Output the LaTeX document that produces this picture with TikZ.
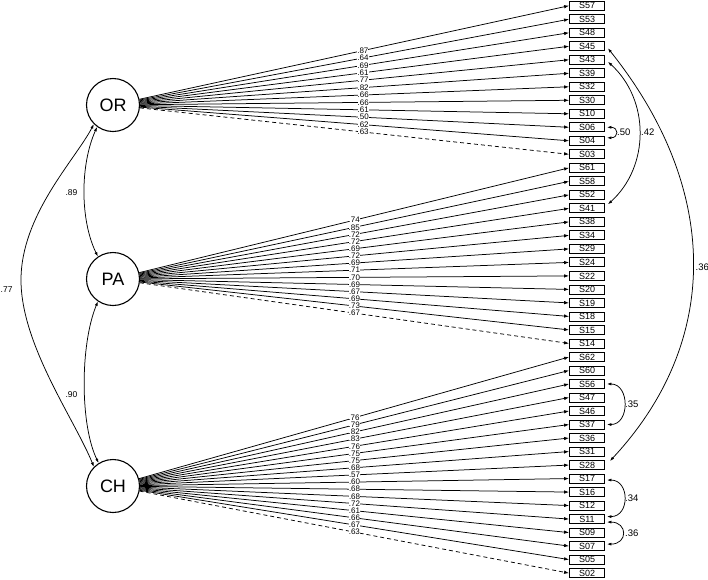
\documentclass[tikz,border=0pt]{standalone}
\usepackage{fontspec}
\setmainfont{Liberation Sans}
\usetikzlibrary{arrows.meta}
\begin{document}
\begin{tikzpicture}[x=1pt,y=-1pt,
  obs/.style={draw, line width=0.8pt, minimum width=35pt, minimum height=9pt, inner sep=0pt, font=\fontsize{9}{9}\selectfont},
  lat/.style={draw, circle, line width=1.1pt, minimum size=53pt, inner sep=0pt, font=\fontsize{18}{18}\selectfont},
  load/.style={line width=0.75pt, -{Latex[length=5pt,width=3.5pt]}},
  dload/.style={load, dash pattern=on 4pt off 3pt},
  coef/.style={fill=white, inner sep=0pt, font=\fontsize{8}{8}\selectfont},
  cov/.style={line width=0.75pt, {Latex[length=4.5pt,width=3pt]}-{Latex[length=4.5pt,width=3pt]}},
  covlab/.style={inner sep=0pt, font=\fontsize{8.5}{8.5}\selectfont},
  elab/.style={inner sep=0pt, anchor=west, font=\fontsize{9.5}{9.5}\selectfont}
]
\useasboundingbox (0,0) rectangle (708,579);

% latent factors
\node[lat] (OR) at (113,105) {OR};
\node[lat] (PA) at (113,279) {PA};
\node[lat] (CH) at (113,486) {CH};

% observed items
\foreach \n [count=\i from 0] in {S57,S53,S48,S45,S43,S39,S32,S30,S10,S06,S04,S03,
  S61,S58,S52,S41,S38,S34,S29,S24,S22,S20,S19,S18,S15,S14,
  S62,S60,S56,S47,S46,S37,S36,S31,S28,S17,S16,S12,S11,S09,S07,S05,S02}
  \node[obs] (\n) at (587,5.7+13.51*\i) {\n};

% loadings OR
\foreach \n/\v in {S57/.87,S53/.64,S48/.69,S45/.61,S43/.77,S39/.82,S32/.66,S30/.66,S10/.61,S06/.50,S04/.62}
  \draw[load] (OR) -- node[coef,pos=0.52] {\v} (\n.west);
\draw[dload] (OR) -- node[coef,pos=0.52] {.63} (S03.west);

% loadings PA
\foreach \n/\v in {S61/.74,S58/.85,S52/.72,S41/.72,S38/.69,S34/.72,S29/.69,S24/.71,S22/.70,S20/.69,S19/.67,S18/.69,S15/.73}
  \draw[load] (PA) -- node[coef,pos=0.5] {\v} (\n.west);
\draw[dload] (PA) -- node[coef,pos=0.5] {.67} (S14.west);

% loadings CH
\foreach \n/\v in {S62/.76,S60/.79,S56/.82,S47/.83,S46/.76,S37/.75,S36/.75,S31/.68,S28/.57,S17/.60,S16/.68,S12/.68,S11/.72,S09/.61,S07/.66,S05/.67}
  \draw[load] (CH) -- node[coef,pos=0.5] {\v} (\n.west);
\draw[dload] (CH) -- node[coef,pos=0.5] {.63} (S02.west);

% factor covariances
\draw[cov] (OR.234) .. controls (80,165) and (80,220) .. (PA.124);
\node[covlab] (c89) at (71.5,193) {.89};
\draw[cov] (PA.236) .. controls (80,345) and (80,425) .. (CH.122);
\node[covlab] (c90) at (71.5,395) {.90};
\coordinate (mid77) at (21,280);
\draw[cov] (OR.225) .. controls (75,160) and (21,215) .. (mid77)
   .. controls (21,345) and (75,420) .. (CH.135);
\node[covlab, anchor=west] (c77) at (0.5,290) {.77};

% error covariances
\draw[cov] ([xshift=2pt]S06.east) .. controls +(12,0) and +(12,0) .. ([xshift=2pt,yshift=3pt]S04.east);
\node[elab] (c50) at (617,132) {.50};

\draw[cov] ([xshift=3pt,yshift=-2pt]S43.east) .. controls +(42,38) and +(42,-38) .. ([xshift=3pt,yshift=4pt]S41.east);
\node[elab] (c42) at (641,132) {.42};

\draw[cov] ([xshift=3pt,yshift=-2pt]S45.east) .. controls +(112,140) and +(112,-120) .. ([xshift=5pt,yshift=4pt]S28.east);
\node[elab] (c36a) at (695.5,267) {.36};

\draw[cov] ([xshift=2pt]S56.east) .. controls +(23,0) and +(23,0) .. ([xshift=2pt]S37.east);
\node[elab] (c35) at (625,404) {.35};

\draw[cov] ([xshift=2pt,yshift=-1.5pt]S17.east) .. controls +(23,0) and +(23,0) .. ([xshift=2pt,yshift=2.5pt]S11.east);
\node[elab] (c34) at (625,498) {.34};

\draw[cov] ([xshift=2pt,yshift=-3pt]S11.east) .. controls +(21,0) and +(21,0) .. ([xshift=2pt,yshift=2pt]S07.east);
\node[elab] (c36b) at (625,533) {.36};
\end{tikzpicture}
\end{document}
